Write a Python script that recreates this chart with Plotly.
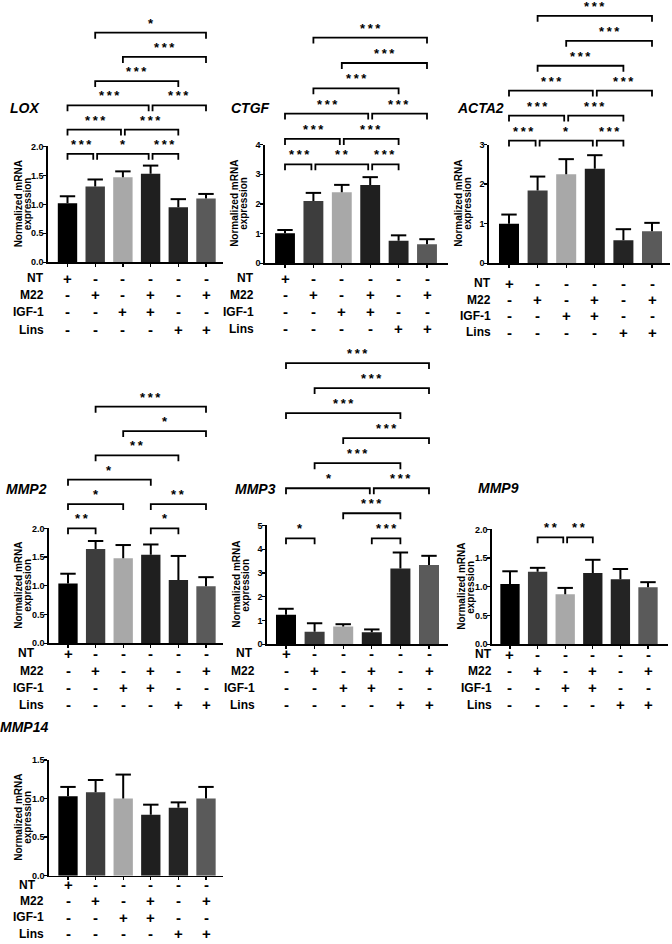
import plotly.graph_objects as go

W, H = 672, 944
FONT = "Liberation Sans, Arial, Helvetica, sans-serif"

# ---------------- data ----------------
positions = [0, 1, 2, 3, 4, 5]
bar_colors = ["#000000", "#3d3d3d", "#a8a8a8", "#1f1f1f", "#242424", "#5a5a5a"]

row_names = ["NT", "M22", "IGF-1", "Lins"]
NT = ["+", "-", "-", "-", "-", "-"]
M22 = ["-", "+", "-", "+", "-", "+"]
IGF1 = ["-", "-", "+", "+", "-", "-"]
LINS = ["-", "-", "-", "-", "+", "+"]
treatments = [NT, M22, IGF1, LINS]

lox_mean = [1.02, 1.31, 1.47, 1.53, 0.95, 1.10]
lox_err = [0.12, 0.12, 0.10, 0.14, 0.14, 0.08]
ctgf_mean = [1.01, 2.10, 2.39, 2.64, 0.76, 0.64]
ctgf_err = [0.11, 0.27, 0.25, 0.26, 0.18, 0.17]
acta2_mean = [1.00, 1.84, 2.25, 2.39, 0.58, 0.81]
acta2_err = [0.23, 0.35, 0.38, 0.34, 0.28, 0.21]
mmp2_mean = [1.04, 1.64, 1.48, 1.54, 1.10, 0.99]
mmp2_err = [0.17, 0.14, 0.23, 0.18, 0.42, 0.16]
mmp3_mean = [1.24, 0.52, 0.74, 0.50, 3.19, 3.33]
mmp3_err = [0.25, 0.36, 0.10, 0.12, 0.67, 0.39]
mmp9_mean = [1.05, 1.26, 0.87, 1.24, 1.13, 0.99]
mmp9_err = [0.22, 0.07, 0.11, 0.23, 0.18, 0.09]
mmp14_mean = [1.03, 1.08, 1.00, 0.79, 0.88, 1.00]
mmp14_err = [0.12, 0.16, 0.31, 0.13, 0.07, 0.15]

# significance: (group a, group b, level, label)
lox_sig = [(0, 1, 0, "***"), (1, 3, 0, "*"), (3, 4, 0, "***"), (0, 2, 1, "***"), (2, 4, 1, "***"),
           (0, 3, 2, "***"), (3, 5, 2, "***"), (1, 4, 3, "***"), (2, 5, 4, "***"), (1, 5, 5, "*")]
ctgf_sig = [(0, 1, 0, "***"), (1, 3, 0, "**"), (3, 4, 0, "***"), (0, 2, 1, "***"), (2, 4, 1, "***"),
            (0, 3, 2, "***"), (3, 5, 2, "***"), (1, 4, 3, "***"), (2, 5, 4, "***"), (1, 5, 5, "***")]
acta2_sig = [(0, 1, 0, "***"), (1, 3, 0, "*"), (3, 4, 0, "***"), (0, 2, 1, "***"), (2, 4, 1, "***"),
             (0, 3, 2, "***"), (3, 5, 2, "***"), (1, 4, 3, "***"), (2, 5, 4, "***"), (1, 5, 5, "***")]
mmp2_sig = [(0, 1, 0, "**"), (3, 4, 0, "*"), (0, 2, 1, "*"), (3, 5, 1, "**"), (0, 3, 2, "*"),
            (1, 4, 3, "**"), (2, 5, 4, "*"), (1, 5, 5, "***")]
mmp3_sig = [(0, 1, 0, "*"), (3, 4, 0, "***"), (2, 4, 1, "***"), (0, 3, 2, "*"), (3, 5, 2, "***"),
            (1, 4, 3, "***"), (2, 5, 4, "***"), (0, 4, 5, "***"), (1, 5, 6, "***"), (0, 5, 7, "***")]
mmp9_sig = [(1, 2, 0, "**"), (2, 3, 0, "**")]
mmp14_sig = []

# ---------------- layout geometry (pixels) ----------------
panels = [
    dict(gene="LOX", mean=lox_mean, err=lox_err, sig=lox_sig, ymax=2, dtick=0.5, fmt=".1f",
         left=48, c0=67.5, c5=206, right=223, top=143, bottom=260,
         label=(25, 104), rows=[276, 293, 310, 328], row_right=45, nt_right=45,
         sbase=150.5, sstep=24.5),
    dict(gene="CTGF", mean=ctgf_mean, err=ctgf_err, sig=ctgf_sig, ymax=4, dtick=1, fmt="d",
         left=265, c0=285, c5=427, right=448, top=141, bottom=261,
         label=(250, 104), rows=[276, 293, 310, 327], row_right=255, nt_right=255,
         sbase=161, sstep=25.6),
    dict(gene="ACTA2", mean=acta2_mean, err=acta2_err, sig=acta2_sig, ymax=3, dtick=1, fmt="d",
         left=489, c0=509, c5=652, right=670, top=141, bottom=261,
         label=(480, 104), rows=[281, 298, 314, 331], row_right=492, nt_right=492,
         sbase=137, sstep=25.2),
    dict(gene="MMP2", mean=mmp2_mean, err=mmp2_err, sig=mmp2_sig, ymax=2, dtick=0.5, fmt=".1f",
         left=49, c0=68, c5=206, right=223, top=529, bottom=645,
         label=(26, 489), rows=[655, 673, 690, 707], row_right=45, nt_right=36,
         sbase=529, sstep=24.6),
    dict(gene="MMP3", mean=mmp3_mean, err=mmp3_err, sig=mmp3_sig, ymax=5, dtick=1, fmt="d",
         left=267, c0=286, c5=429, right=448, top=526, bottom=646,
         label=(255, 489), rows=[655, 673, 690, 707], row_right=256, nt_right=254,
         sbase=539, sstep=25.3),
    dict(gene="MMP9", mean=mmp9_mean, err=mmp9_err, sig=mmp9_sig, ymax=2, dtick=0.5, fmt=".1f",
         left=492, c0=510, c5=648, right=668, top=530, bottom=646,
         label=(498, 488), rows=[656, 673, 690, 707], row_right=493, nt_right=493,
         sbase=538, sstep=25),
    dict(gene="MMP14", mean=mmp14_mean, err=mmp14_err, sig=mmp14_sig, ymax=1.5, dtick=0.5, fmt=".1f",
         left=49, c0=68, c5=206, right=223, top=763, bottom=880,
         label=(24, 730), rows=[889, 905.5, 922, 938.5], row_right=45, nt_right=37,
         sbase=0, sstep=0),
]


def py(px):
    return 1 - px / H


def pxx(px):
    return px / W


fig = go.Figure()
shapes = []
annotations = []
THIN = "\u2009"

for k, p in enumerate(panels, start=1):
    xa = "x" if k == 1 else f"x{k}"
    ya = "y" if k == 1 else f"y{k}"
    spacing = (p["c5"] - p["c0"]) / 5.0
    xlo = -(p["c0"] - p["left"]) / spacing
    xhi = (p["right"] - p["c0"]) / spacing

    fig.add_trace(go.Bar(x=positions, y=p["mean"], marker=dict(color=bar_colors, line=dict(width=0)),
                         width=0.7, xaxis=xa, yaxis=ya, showlegend=False, hoverinfo="skip"))
    tops = [m + e for m, e in zip(p["mean"], p["err"])]
    fig.add_trace(go.Scatter(x=positions, y=tops, mode="markers", xaxis=xa, yaxis=ya,
                             marker=dict(symbol="line-ew", size=11, color="black",
                                         line=dict(width=2, color="black")),
                             error_y=dict(type="data", symmetric=False, array=[0] * 6,
                                          arrayminus=p["err"], width=0, thickness=2, color="black"),
                             showlegend=False, hoverinfo="skip", cliponaxis=False))

    axis_key = "xaxis" if k == 1 else f"xaxis{k}"
    yaxis_key = "yaxis" if k == 1 else f"yaxis{k}"
    fig.layout[axis_key] = dict(domain=[pxx(p["left"]), pxx(p["right"])], range=[xlo, xhi],
                                anchor=ya, showgrid=False, zeroline=False, showline=True,
                                linecolor="black", linewidth=1.6, ticks="outside", ticklen=3,
                                tickwidth=1.3, tickcolor="black", tickvals=positions,
                                showticklabels=False, fixedrange=True)
    fig.layout[yaxis_key] = dict(domain=[py(p["bottom"]), py(p["top"])], range=[0, p["ymax"]],
                                 anchor=xa, showgrid=False, zeroline=False, showline=True,
                                 linecolor="black", linewidth=1.6, ticks="outside", ticklen=3,
                                 tickwidth=1.3, tickcolor="black", dtick=p["dtick"], tick0=0,
                                 tickformat=p["fmt"], ticklabelstandoff=-2,
                                 tickfont=dict(family=FONT, size=9, color="black", weight="bold"),
                                 fixedrange=True)

    # gene label
    annotations.append(dict(x=pxx(p["label"][0]), y=py(p["label"][1]), xref="paper", yref="paper",
                            text=f"<b><i>{p['gene']}</i></b>", showarrow=False,
                            font=dict(family=FONT, size=14, color="black"),
                            xanchor="center", yanchor="middle"))
    # y-axis title (two lines, tight spacing)
    ymid = py((p["top"] + p["bottom"]) / 2)
    for dx, line in ((-30, "Normalized mRNA"), (-21, "expression")):
        annotations.append(dict(x=pxx(p["left"] + dx), y=ymid, xref="paper", yref="paper",
                                text=f"<b>{line}</b>", showarrow=False, textangle=-90,
                                font=dict(family=FONT, size=10, color="black"),
                                xanchor="center", yanchor="middle", borderpad=0))
    # treatment rows
    for r, (name, vals) in enumerate(zip(row_names, treatments)):
        ypos = py(p["rows"][r])
        xr = p["nt_right"] if r == 0 else p["row_right"]
        annotations.append(dict(x=pxx(xr), y=ypos, xref="paper", yref="paper",
                                text=f"<b>{name}</b>", showarrow=False,
                                font=dict(family=FONT, size=12, color="black"),
                                xanchor="right", yanchor="middle", borderpad=0))
        for i, v in zip(positions, vals):
            annotations.append(dict(x=i, y=ypos, xref=xa, yref="paper", text=f"<b>{v}</b>",
                                    showarrow=False, font=dict(family=FONT, size=15, color="black"),
                                    xanchor="center", yanchor="middle", borderpad=0))
    # significance brackets
    inset = 0.07
    for (a, b, lev, lab) in p["sig"]:
        same = [s for s in p["sig"] if s[2] == lev and s != (a, b, lev, lab)]
        xa0 = a + (inset if any(s[1] == a for s in same) else 0)
        xb0 = b - (inset if any(s[0] == b for s in same) else 0)
        ly = p["sbase"] - lev * p["sstep"]
        y_line = py(ly)
        y_leg = py(ly + 6)
        shapes.append(dict(type="path", xref=xa, yref="paper",
                           path=f"M {xa0},{y_leg} L {xa0},{y_line} L {xb0},{y_line} L {xb0},{y_leg}",
                           line=dict(color="black", width=1.8)))
        annotations.append(dict(x=(a + b) / 2, y=py(ly - 1), xref=xa, yref="paper",
                                text=f"<b>{THIN.join(lab)}</b>", showarrow=False,
                                font=dict(family=FONT, size=13, color="black"),
                                xanchor="center", yanchor="bottom", borderpad=0))

fig.update_layout(width=W, height=H, margin=dict(l=0, r=0, t=0, b=0),
                  paper_bgcolor="white", plot_bgcolor="white", showlegend=False,
                  barmode="overlay", shapes=shapes, annotations=annotations,
                  font=dict(family=FONT, color="black"))

fig.write_html("out.html", config={"displayModeBar": False, "staticPlot": True},
               post_script="document.body.style.margin='0px';document.body.style.padding='0px';"
                           "document.body.style.overflow='hidden';")
